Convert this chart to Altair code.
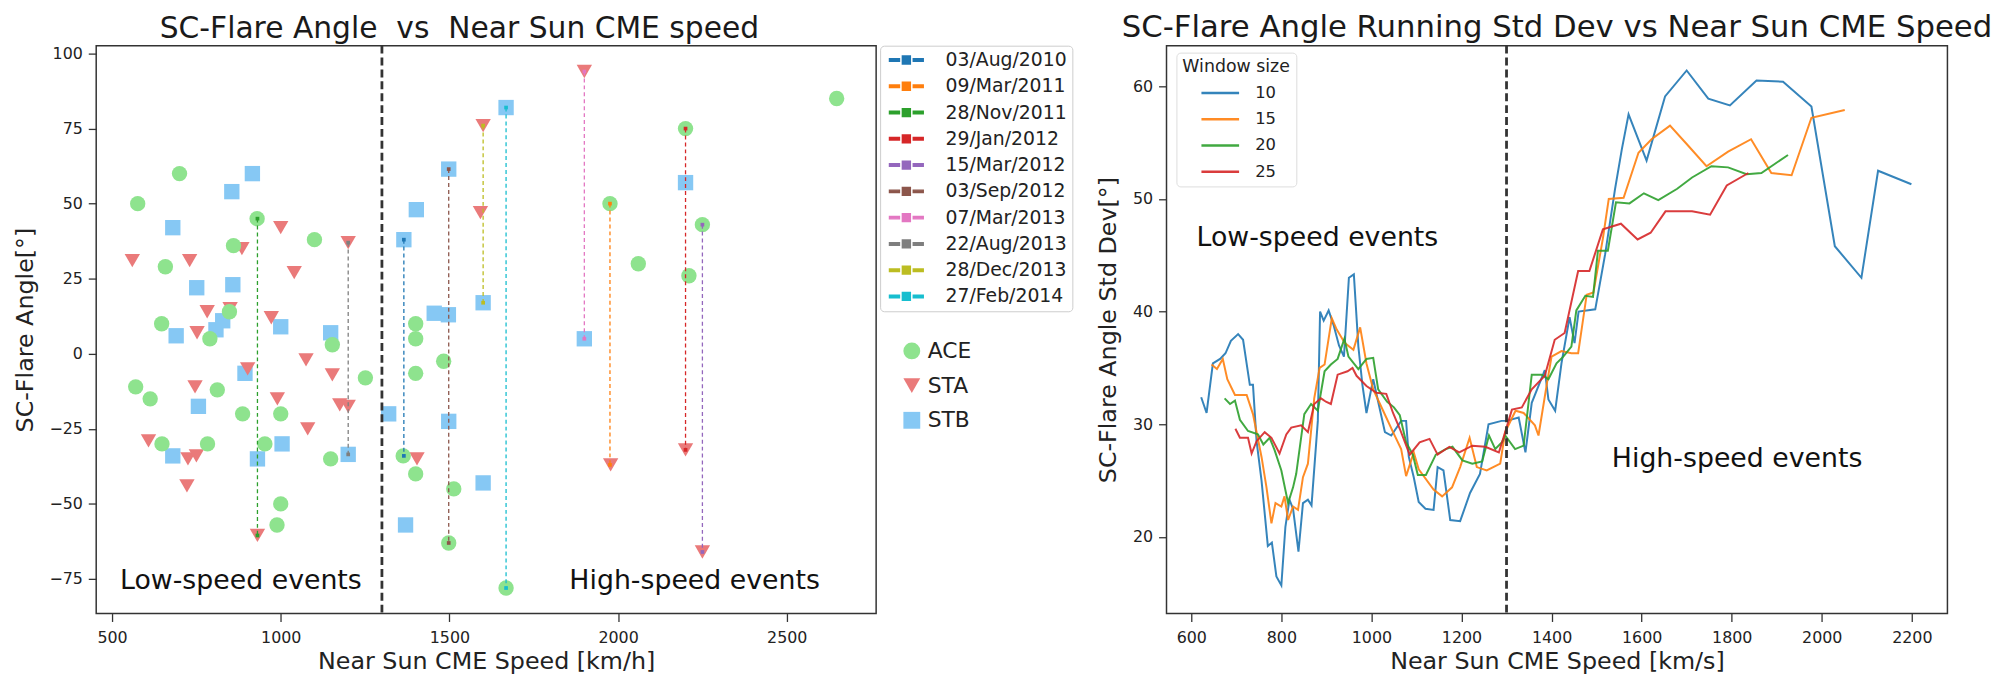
import altair as alt
import pandas as pd

# ---------------- left panel data (scatter of SC-flare angle) ----------------
ace_speed = [576, 700, 930, 860, 1100, 658, 848, 647, 790, 1153, 1400, 1400, 2648, 2200, 1976, 2250,
             2060, 2210, 570, 613, 812, 887, 1000, 1251, 648, 783, 953, 1148, 1363, 1400, 1513, 1000,
             989, 1498, 1483, 1400, 1668]
ace_angle = [50, 60, 45, 36, 38, 29, 14, 10, 5, 3, 10, 5, 85, 75, 50, 43,
             30, 26, -11, -15, -12, -20, -20, -8, -30, -30, -30, -35, -34, -40, -45, -50,
             -57, -63, -2.5, -6.5, -78]

sta_speed = [560, 730, 1040, 1000, 885, 1200, 782, 850, 752, 972, 1600, 1592, 1900, 746, 902, 1075,
             1153, 990, 1175, 1200, 608, 725, 750, 722, 931, 1404, 1978, 2200, 2250, 1080]
sta_angle = [31, 31, 27, 42, 35, 37, 14, 15, 7, 12, 76, 47, 94, -11, -5, -2,
             -7, -15, -17, -17.5, -29, -35, -34, -44, -60.5, -35, -37, -32, -66, -25]

stb_speed = [680, 855, 916, 751, 858, 690, 808, 828, 1000, 1148, 1365, 1402, 1498, 1600, 1455, 1497,
             1668, 2200, 1900, 894, 756, 1320, 1498, 680, 931, 1004, 1200, 1600, 1370]
stb_angle = [42, 54, 60, 22, 23, 6, 8, 11, 9, 7, 38, 48, 61.5, 17, 13.5, 13,
             82, 57, 5, -6.5, -17.5, -20, -22.5, -34, -35, -30, -33.5, -43, -57]

inst_names = ["ACE", "STA", "STB"]
inst_colors = ["#8ee38e", "#ea7a7a", "#86c8f4"]
inst_shapes = ["circle", "triangle-down", "square"]

event_dates = ["03/Aug/2010", "09/Mar/2011", "28/Nov/2011", "29/Jan/2012", "15/Mar/2012",
               "03/Sep/2012", "07/Mar/2013", "22/Aug/2013", "28/Dec/2013", "27/Feb/2014"]
event_speed = [1365, 1976, 931, 2200, 2250, 1498, 1900, 1200, 1600, 1668]
event_top = [38, 50, 45, 75, 43, 61.5, 94, 37, 76, 82]
event_bottom = [-34, -37, -60.5, -32, -66, -63, 5, -33.5, 17, -78]
event_colors = ["#1f77b4", "#ff7f0e", "#2ca02c", "#d62728", "#9467bd",
                "#8c564b", "#e377c2", "#7f7f7f", "#bcbd22", "#17becf"]

# ---------------- right panel data (running std dev) ----------------
windows = ["10", "15", "20", "25"]
window_colors = ["#1f77b4", "#ff7f0e", "#2ca02c", "#d62728"]

std10_speed = [622, 634, 648, 664, 676, 688, 704, 715, 730, 737, 745, 756, 770, 779, 789, 800, 809, 818, 826, 838,
               848, 859, 867, 881, 886, 894, 905, 916, 928, 939, 950, 961, 971, 980, 989, 1004, 1015, 1030, 1044, 1066,
               1077, 1083, 1094, 1105, 1120, 1138, 1147, 1160, 1175, 1197, 1219, 1241, 1260, 1289, 1300, 1327, 1342,
               1356, 1385, 1393, 1408, 1422, 1440, 1451, 1460, 1497, 1519, 1541, 1556, 1571, 1611, 1652, 1700, 1748,
               1796, 1855, 1914, 1977, 2029, 2088, 2125, 2199]
std10_val = [32.4, 31.0, 35.4, 35.8, 36.3, 37.4, 38.0, 37.5, 33.5, 33.5, 28.5, 25.0, 19.2, 19.5, 16.5, 15.7, 20.9,
             23.3, 22.5, 18.7, 23.0, 23.3, 22.8, 30.3, 40.0, 39.2, 40.1, 38.8, 37.0, 36.0, 43.0, 43.3, 36.9, 33.5,
             31.0, 34.0, 32.0, 29.3, 29.0, 30.3, 30.3, 27.1, 25.3, 23.1, 22.5, 22.4, 26.2, 25.9, 21.5, 21.4, 23.9,
             25.6, 30.0, 30.3, 30.3, 30.6, 27.5, 31.9, 34.8, 32.2, 31.2, 35.4, 39.5, 37.2, 40.0, 40.2, 45.1, 50.9,
             54.4, 57.5, 53.4, 59.1, 61.4, 58.9, 58.3, 60.5, 60.4, 58.2, 45.8, 43.0, 52.5, 51.3]

std15_speed = [645, 657, 670, 680, 697, 723, 737, 756, 767, 778, 787, 800, 807, 815, 826, 837, 848, 859, 873, 885,
               896, 912, 923, 941, 960, 975, 989, 1004, 1026, 1048, 1066, 1077, 1094, 1105, 1138, 1157, 1179, 1197,
               1218, 1234, 1256, 1286, 1297, 1320, 1338, 1363, 1371, 1390, 1400, 1422, 1444, 1459, 1478, 1493, 1514,
               1527, 1560, 1593, 1622, 1663, 1704, 1744, 1792, 1843, 1888, 1933, 1977, 2051]
std15_val = [35.3, 34.9, 35.8, 34.0, 32.6, 32.6, 30.9, 27.1, 24.4, 21.2, 23.0, 22.7, 23.6, 21.5, 22.7, 22.4, 25.3,
             26.5, 32.3, 35.0, 35.3, 39.4, 38.4, 37.2, 36.6, 38.6, 35.4, 33.1, 31.2, 29.3, 27.8, 25.4, 27.5, 26.0,
             24.2, 23.6, 24.4, 26.2, 28.8, 26.2, 25.9, 26.5, 29.3, 31.2, 31.0, 29.9, 29.0, 33.7, 36.0, 36.5, 36.3,
             36.3, 41.5, 41.7, 46.5, 50.0, 50.1, 54.1, 55.3, 56.5, 54.7, 52.9, 54.2, 55.3, 52.3, 52.1, 57.2, 57.9]

std20_speed = [674, 686, 697, 708, 726, 748, 760, 774, 785, 800, 815, 826, 833, 851, 866, 881, 896, 910, 925, 940,
               949, 971, 989, 1004, 1015, 1035, 1050, 1063, 1077, 1092, 1103, 1121, 1143, 1165, 1180, 1202, 1224,
               1246, 1261, 1275, 1290, 1297, 1319, 1338, 1356, 1378, 1393, 1411, 1426, 1444, 1455, 1475, 1492, 1503,
               1525, 1543, 1573, 1605, 1637, 1679, 1712, 1755, 1792, 1833, 1866, 1925]
std20_val = [32.3, 31.8, 32.1, 30.4, 29.4, 29.1, 28.2, 28.8, 27.7, 25.9, 23.0, 24.4, 25.6, 30.9, 31.8, 31.2, 34.7,
             35.3, 35.8, 37.6, 36.0, 34.9, 35.8, 35.9, 33.1, 32.0, 31.5, 30.8, 28.4, 27.3, 25.5, 25.5, 27.3, 27.8,
             28.0, 26.8, 26.5, 26.7, 29.0, 27.8, 28.4, 29.0, 27.8, 28.1, 34.4, 34.4, 34.0, 35.4, 36.0, 36.9, 40.1,
             41.4, 41.3, 45.4, 45.4, 49.7, 49.6, 50.5, 49.9, 50.9, 51.9, 52.9, 52.8, 52.2, 52.3, 53.9]

std25_speed = [698, 708, 726, 734, 745, 763, 778, 796, 811, 822, 844, 859, 873, 888, 899, 910, 925, 947, 958, 967,
               989, 1011, 1033, 1048, 1063, 1085, 1107, 1129, 1147, 1173, 1195, 1224, 1253, 1283, 1297, 1312, 1334,
               1356, 1385, 1407, 1429, 1459, 1484, 1514, 1554, 1591, 1620, 1653, 1712, 1752, 1789, 1837]
std25_val = [29.6, 28.8, 28.8, 27.4, 28.5, 29.3, 28.8, 27.4, 29.1, 29.7, 29.9, 29.3, 31.8, 32.3, 32.0, 31.8, 34.4,
             34.7, 35.0, 34.3, 33.4, 32.8, 32.7, 31.0, 29.6, 27.3, 28.4, 28.7, 27.3, 28.0, 27.5, 28.1, 28.0, 27.5,
             29.3, 31.3, 31.5, 33.1, 34.3, 37.5, 38.1, 43.6, 43.6, 47.3, 47.8, 46.4, 47.0, 48.9, 48.9, 48.6, 51.2,
             52.3]

# ---------------- tables ----------------
rows = []
for name, sp, an in [("STB", stb_speed, stb_angle), ("STA", sta_speed, sta_angle), ("ACE", ace_speed, ace_angle)]:
    for s, a in zip(sp, an):
        rows.append({"speed": s, "angle": a, "inst": name})
inst_df = pd.DataFrame(rows)

ev_df = pd.DataFrame({"date": event_dates, "speed": event_speed, "top": event_top, "bottom": event_bottom})
ev_pts = pd.DataFrame(
    [{"date": d, "speed": s, "angle": t} for d, s, t in zip(event_dates, event_speed, event_top)]
    + [{"date": d, "speed": s, "angle": b} for d, s, b in zip(event_dates, event_speed, event_bottom)]
)

lrows = []
for w, sp, vals in [("10", std10_speed, std10_val), ("15", std15_speed, std15_val),
                    ("20", std20_speed, std20_val), ("25", std25_speed, std25_val)]:
    for s, v in zip(sp, vals):
        lrows.append({"speed": s, "std": v, "window": w})
std_df = pd.DataFrame(lrows)

one = pd.DataFrame({"k": [0]})   # single row for annotations

FONT = "DejaVu Sans"
NB = "\u00a0"

# ---------------- left panel ----------------
xl = alt.X("speed:Q", scale=alt.Scale(domain=[453, 2765], nice=False, zero=False),
           axis=alt.Axis(values=[500, 1000, 1500, 2000, 2500], format="d", title="Near Sun CME Speed [km/h]",
                         labelPadding=8, titlePadding=4, labelFlush=False))
yl = alt.Y("angle:Q", scale=alt.Scale(domain=[-86.5, 102.6], nice=False, zero=False),
           axis=alt.Axis(values=[-75, -50, -25, 0, 25, 50, 75, 100], title="SC-Flare Angle[°]",
                         labelPadding=6, titlePadding=12))

inst_legend = alt.Legend(title=None, orient="none", legendX=812, legendY=297, padding=0,
                         symbolSize=289, labelFontSize=22, labelFont=FONT, labelColor="#222",
                         labelOffset=5, rowPadding=13, symbolStrokeWidth=0, symbolOpacity=1)

points = alt.Chart(inst_df).mark_point(filled=True, opacity=1, size=240, strokeWidth=0).encode(
    x=xl, y=yl,
    fill=alt.Fill("inst:N", scale=alt.Scale(domain=inst_names, range=inst_colors), legend=inst_legend),
    shape=alt.Shape("inst:N", scale=alt.Scale(domain=inst_names, range=inst_shapes), legend=inst_legend),
)

EV_PATH = "M-1,-0.25H1H1V0.25H-1Z M1.6,-0.8H3.2V0.8H1.6Z M3.8,-0.25H5.8V0.25H3.8Z"
ev_legend = alt.Legend(title=None, orient="none", legendX=791, legendY=0, padding=5,
                       strokeColor="#cccccc", fillColor="white", cornerRadius=4,
                       symbolType=EV_PATH, symbolSize=100, labelFontSize=19, labelFont=FONT,
                       labelColor="#222", labelOffset=42, rowPadding=6.5, symbolOpacity=1)

ev_color_scale = alt.Scale(domain=event_dates, range=event_colors)

ev_marks = alt.Chart(ev_pts).mark_square(size=14, opacity=1).encode(
    x=alt.X("speed:Q"), y=alt.Y("angle:Q"),
    color=alt.Color("date:N", scale=ev_color_scale, legend=ev_legend),
)
ev_rules = alt.Chart(ev_df).mark_rule(strokeDash=[4, 3], strokeWidth=1.3).encode(
    x=alt.X("speed:Q"), y=alt.Y("top:Q"), y2="bottom:Q",
    color=alt.Color("date:N", scale=ev_color_scale, legend=None),
)

vline_l = alt.Chart(one).mark_rule(strokeDash=[8, 4], strokeWidth=2.8, color="#333333").encode(
    x=alt.datum(1300)
)
txt_style = dict(font=FONT, fontSize=27, align="center", baseline="alphabetic", color="#111111")
txt_low_l = alt.Chart(one).mark_text(**txt_style).encode(
    x=alt.datum(882), y=alt.datum(-78.4), text=alt.value("Low-speed events"))
txt_high_l = alt.Chart(one).mark_text(**txt_style).encode(
    x=alt.datum(2227), y=alt.datum(-78.4), text=alt.value("High-speed events"))

left = alt.layer(points, ev_marks, ev_rules, vline_l, txt_low_l, txt_high_l).properties(
    width=787, height=573,
    title=alt.TitleParams("SC-Flare Angle" + NB + NB + "vs" + NB + NB + "Near Sun CME speed",
                          fontSize=30, font=FONT, fontWeight="normal", color="#1a1a1a",
                          anchor="middle", frame="group", dx=-27, offset=0),
)

# ---------------- right panel ----------------
xr = alt.X("speed:Q", scale=alt.Scale(domain=[545, 2279], nice=False, zero=False),
           axis=alt.Axis(values=[600, 800, 1000, 1200, 1400, 1600, 1800, 2000, 2200], format="d",
                         title="Near Sun CME Speed [km/s]", labelPadding=8, titlePadding=4, labelFlush=False))
yr = alt.Y("std:Q", scale=alt.Scale(domain=[13.2, 63.6], nice=False, zero=False),
           axis=alt.Axis(values=[20, 30, 40, 50, 60], title="SC-Flare Angle Std Dev[°]",
                         labelPadding=6, titlePadding=12))

win_legend = alt.Legend(title="Window size", orient="none", legendX=10, legendY=7, padding=6,
                        strokeColor="#dddddd", fillColor="white", cornerRadius=4,
                        symbolType="M2.2,0H9.8", symbolSize=100, symbolStrokeWidth=2.5,
                        labelFontSize=16.5, labelFont=FONT, labelColor="#222",
                        titleFontSize=17.5, titleFont=FONT, titleFontWeight="normal", titleColor="#222",
                        labelOffset=57, rowPadding=9.5, titlePadding=9)

lines = alt.Chart(std_df).mark_line(strokeWidth=2, opacity=0.9).encode(
    x=xr, y=yr,
    color=alt.Color("window:N", scale=alt.Scale(domain=windows, range=window_colors), legend=win_legend),
)
vline_r = alt.Chart(one).mark_rule(strokeDash=[8, 4], strokeWidth=2.8, color="#333333").encode(
    x=alt.datum(1300)
)
txt_low_r = alt.Chart(one).mark_text(**txt_style).encode(
    x=alt.datum(880), y=alt.datum(45.8), text=alt.value("Low-speed events"))
txt_high_r = alt.Chart(one).mark_text(**txt_style).encode(
    x=alt.datum(1812), y=alt.datum(26.2), text=alt.value("High-speed events"))

right = alt.layer(lines, vline_r, txt_low_r, txt_high_r).properties(
    width=788, height=573,
    title=alt.TitleParams("SC-Flare Angle Running Std Dev vs Near Sun CME Speed", fontSize=31, font=FONT,
                          fontWeight="normal", color="#1a1a1a", anchor="middle", frame="group", offset=0),
)

chart = alt.hconcat(left, right, spacing=21).resolve_scale(
    color="independent", x="independent", y="independent"
).resolve_legend(
    color="independent"
).properties(
    padding={"left": 4, "top": 0, "right": 2, "bottom": 0},
    background="white",
).configure_view(
    stroke="#333333", strokeWidth=1.5
).configure_axis(
    domain=False, grid=False, tickColor="#333333", tickSize=8, tickWidth=1.3,
    labelFont=FONT, labelFontSize=16, labelColor="#222222",
    titleFont=FONT, titleFontSize=24, titleFontWeight="normal", titleColor="#222222",
)

chart.save("out.html", embed_options={"renderer": "svg", "actions": False})
